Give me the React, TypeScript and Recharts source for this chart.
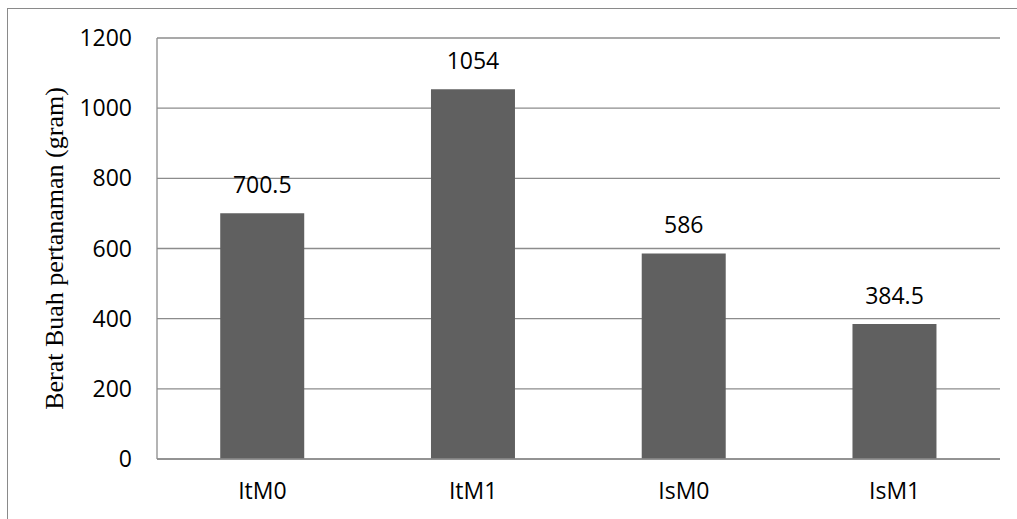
import { BarChart, Bar, XAxis, YAxis, CartesianGrid, LabelList } from "recharts";

const categories = ["ItM0", "ItM1", "IsM0", "IsM1"];
const weights = [700.5, 1054, 586, 384.5];
const yTicks = [0, 200, 400, 600, 800, 1000, 1200];

const data = categories.map((name, i) => ({ name, value: weights[i] }));

const tickFont = { fontFamily: "'Open Sans', sans-serif", fontSize: 23, fill: "#000" };

export default function App() {
  return (
    <div style={{ position: "fixed", left: 0, top: 0, width: 1017, height: 519, background: "#fff", overflow: "hidden" }}>
      <div
        style={{
          position: "absolute",
          left: 7,
          top: 8,
          width: 1100,
          height: 600,
          borderTop: "1px solid #8a8a8a",
          borderLeft: "1px solid #8a8a8a",
        }}
      />
      <BarChart
        width={1017}
        height={519}
        data={data}
        margin={{ top: 38, right: 17, bottom: 0, left: 0 }}
        barCategoryGap="30%"
        style={{ position: "absolute", left: 0, top: 0 }}
      >
        <CartesianGrid vertical={false} stroke="#8c8c8c" strokeWidth={1.3} />
        <XAxis
          dataKey="name"
          height={60}
          tickLine={false}
          axisLine={{ stroke: "#8c8c8c", strokeWidth: 1.3 }}
          tick={tickFont}
          tickMargin={18}
        />
        <YAxis
          width={157}
          domain={[0, 1200]}
          ticks={yTicks}
          interval={0}
          tickLine={false}
          axisLine={{ stroke: "#8c8c8c", strokeWidth: 1.3 }}
          tick={tickFont}
          tickMargin={19}
          label={{
            value: "Berat Buah pertanaman (gram)",
            angle: -90,
            position: "insideLeft",
            offset: 54,
            style: { fontFamily: "'Liberation Serif', serif", fontSize: 26, fill: "#000", textAnchor: "middle" },
          }}
        />
        <Bar dataKey="value" fill="#606060" isAnimationActive={false}>
          <LabelList dataKey="value" position="top" offset={20} style={tickFont} />
        </Bar>
      </BarChart>
    </div>
  );
}
